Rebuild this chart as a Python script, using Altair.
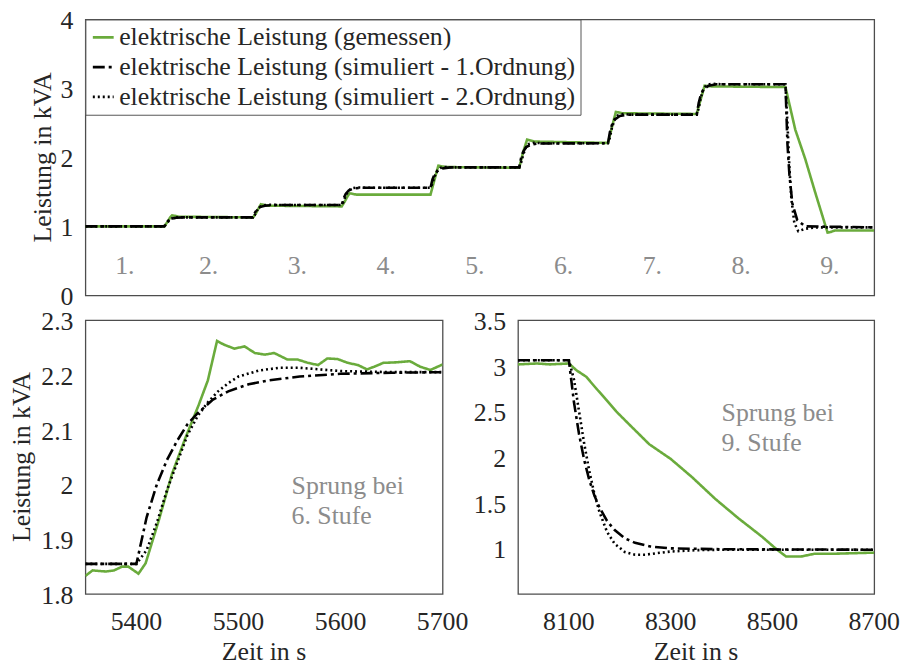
import altair as alt
import pandas as pd

FONT = "Liberation Serif, Times New Roman, serif"
GREEN = "#6aab3c"
INK = "#262626"
GRAYTXT = "#8c8c8c"
FS = 26
SER = [
    "elektrische Leistung (gemessen)",
    "elektrische Leistung (simuliert - 1.Ordnung)",
    "elektrische Leistung (simuliert - 2.Ordnung)",
]
Y_TITLE = "Leistung in kVA"
X_TITLE = "Zeit in s"

# ---------------- top panel (whole test, 9 stages) ----------------
top_meas_t = [1000, 1800, 1830, 1860, 1880, 1950, 2700, 2730, 2760, 2780, 2850, 3600, 3630, 3660, 3680, 3750,
              4500, 4530, 4560, 4580, 4650, 5400, 5440, 5480, 5550, 6300, 6330, 6360, 6380, 6450,
              7200, 7230, 7260, 7280, 7350, 8100, 8200, 8300, 8400, 8527, 8560, 8600, 9000]
top_meas_v = [1.00, 1.00, 1.06, 1.13, 1.16, 1.14, 1.13, 1.19, 1.27, 1.32, 1.30, 1.29, 1.36, 1.44, 1.48, 1.46,
              1.46, 1.62, 1.78, 1.88, 1.86, 1.85, 2.08, 2.26, 2.23, 2.21, 2.38, 2.55, 2.66, 2.64,
              2.63, 2.79, 2.94, 3.04, 3.03, 3.02, 2.40, 1.98, 1.50, 0.91, 0.92, 0.94, 0.94]

top_sim1_t = [1000, 1800, 1820, 1840, 1870, 1920, 2000, 2700, 2720, 2740, 2770, 2820, 2900,
              3600, 3620, 3640, 3670, 3720, 3800, 4500, 4520, 4540, 4570, 4620, 4700,
              5400, 5420, 5440, 5470, 5520, 5600, 6300, 6320, 6340, 6370, 6420, 6500,
              7200, 7220, 7240, 7270, 7320, 7400, 8100, 8120, 8140, 8170, 8220, 8300, 9000]
top_sim1_v = [1.00, 1.00, 1.05, 1.08, 1.11, 1.125, 1.13, 1.13, 1.20, 1.24, 1.28, 1.30, 1.31,
              1.31, 1.41, 1.47, 1.52, 1.55, 1.56, 1.56, 1.68, 1.75, 1.80, 1.84, 1.855,
              1.855, 2.00, 2.08, 2.15, 2.187, 2.202, 2.205, 2.37, 2.47, 2.55, 2.60, 2.62,
              2.62, 2.79, 2.90, 2.99, 3.04, 3.06, 3.06, 2.20, 1.75, 1.33, 1.09, 1.00, 0.985]

top_sim2_t = [1000, 1800, 1820, 1840, 1870, 1900, 1950, 2050, 2700, 2720, 2740, 2770, 2800, 2850, 2950,
              3600, 3620, 3640, 3670, 3700, 3750, 3850, 4500, 4520, 4540, 4570, 4600, 4650, 4750,
              5400, 5420, 5440, 5470, 5500, 5550, 5650, 6300, 6320, 6340, 6370, 6400, 6450, 6550,
              7200, 7220, 7240, 7270, 7300, 7350, 7450, 8100, 8120, 8140, 8160, 8190, 8230, 8300, 8400, 9000]
top_sim2_v = [1.00, 1.00, 1.03, 1.07, 1.11, 1.126, 1.133, 1.13, 1.13, 1.17, 1.23, 1.28, 1.305, 1.314, 1.31,
              1.31, 1.36, 1.45, 1.52, 1.553, 1.564, 1.56, 1.56, 1.62, 1.72, 1.81, 1.848, 1.861, 1.855,
              1.855, 1.93, 2.04, 2.15, 2.197, 2.213, 2.205, 2.205, 2.29, 2.43, 2.56, 2.61, 2.628, 2.62,
              2.62, 2.71, 2.86, 3.00, 3.05, 3.068, 3.06, 3.06, 2.50, 1.85, 1.40, 1.05, 0.93, 0.965, 0.985, 0.985]

stage_labels = ["1.", "2.", "3.", "4.", "5.", "6.", "7.", "8.", "9."]
stage_mid_t = [1400, 2250, 3150, 4050, 4950, 5850, 6750, 7650, 8550]
stage_bounds = [1800, 2700, 3600, 4500, 5400, 6300, 7200, 8100]
top_y_ticks = [0, 1, 2, 3, 4]
top_y_labels = ["0", "1", "2", "3", "4"]

# ---------------- bottom-left: step at stage 6 ----------------
s6_meas_t = [5350, 5357, 5370, 5378, 5386, 5392, 5402, 5409, 5422, 5435, 5448, 5461, 5470, 5479, 5486,
             5496, 5506, 5516, 5526, 5535, 5548, 5558, 5568, 5578, 5587, 5597, 5607, 5617, 5626,
             5633, 5642, 5655, 5668, 5678, 5688, 5700]
s6_meas_v = [1.833, 1.843, 1.841, 1.843, 1.850, 1.850, 1.837, 1.856, 1.935, 2.020, 2.085, 2.145, 2.190,
             2.262, 2.255, 2.248, 2.252, 2.240, 2.237, 2.240, 2.228, 2.228, 2.222, 2.218, 2.230, 2.229,
             2.222, 2.218, 2.210, 2.215, 2.222, 2.223, 2.225, 2.215, 2.209, 2.219]
s6_sim1_t = [5350, 5400, 5410, 5420, 5430, 5440, 5450, 5460, 5475, 5490, 5510, 5530, 5560, 5600, 5650, 5700]
s6_sim1_v = [1.855, 1.855, 1.940, 2.000, 2.045, 2.080, 2.110, 2.130, 2.155, 2.170, 2.183, 2.190, 2.197,
             2.202, 2.204, 2.205]
s6_sim2_t = [5350, 5400, 5410, 5420, 5430, 5440, 5450, 5460, 5470, 5480, 5490, 5500, 5520, 5540, 5560,
             5580, 5600, 5650, 5700]
s6_sim2_v = [1.855, 1.855, 1.880, 1.930, 1.990, 2.040, 2.090, 2.125, 2.150, 2.170, 2.185, 2.197, 2.208,
             2.213, 2.213, 2.210, 2.207, 2.205, 2.205]
s6_x_ticks = [5400, 5500, 5600, 5700]
s6_x_labels = ["5400", "5500", "5600", "5700"]
s6_y_ticks = [1.8, 1.9, 2.0, 2.1, 2.2, 2.3]
s6_y_labels = ["1.8", "1.9", "2", "2.1", "2.2", "2.3"]

# ---------------- bottom-right: step at stage 9 ----------------
s9_meas_t = [8000, 8037, 8063, 8100, 8115, 8134, 8154, 8173, 8193, 8219, 8258, 8300, 8342, 8388, 8433,
             8479, 8508, 8527, 8556, 8582, 8615, 8647, 8700]
s9_meas_v = [3.015, 3.025, 3.015, 3.025, 2.95, 2.88, 2.75, 2.63, 2.50, 2.355, 2.14, 1.98, 1.78, 1.54, 1.33,
             1.13, 0.99, 0.91, 0.91, 0.94, 0.94, 0.945, 0.953]
s9_sim1_t = [8000, 8100, 8110, 8120, 8130, 8140, 8150, 8160, 8175, 8190, 8210, 8230, 8260, 8300, 8400, 8700]
s9_sim1_v = [3.06, 3.06, 2.60, 2.25, 1.97, 1.75, 1.58, 1.45, 1.30, 1.20, 1.11, 1.06, 1.02, 1.00, 0.99, 0.985]
s9_sim2_t = [8000, 8100, 8110, 8120, 8130, 8140, 8150, 8160, 8175, 8190, 8210, 8230, 8250, 8270, 8300,
             8350, 8400, 8700]
s9_sim2_v = [3.06, 3.06, 2.85, 2.50, 2.15, 1.85, 1.60, 1.40, 1.18, 1.05, 0.96, 0.93, 0.93, 0.945, 0.965,
             0.98, 0.985, 0.985]
s9_x_ticks = [8100, 8300, 8500, 8700]
s9_x_labels = ["8100", "8300", "8500", "8700"]
s9_y_ticks = [1, 1.5, 2, 2.5, 3, 3.5]
s9_y_labels = ["1", "1.5", "2", "2.5", "3", "3.5"]

s6_note = "Sprung bei\n6. Stufe"
s9_note = "Sprung bei\n9. Stufe"


def frame(series_list):
    parts = []
    for name, ts, vs in series_list:
        parts.append(pd.DataFrame({"t": ts, "v": vs, "s": name}))
    return pd.concat(parts, ignore_index=True)


df_top = frame([(SER[0], top_meas_t, top_meas_v), (SER[1], top_sim1_t, top_sim1_v),
                (SER[2], top_sim2_t, top_sim2_v)])
df_s6 = frame([(SER[0], s6_meas_t, s6_meas_v), (SER[1], s6_sim1_t, s6_sim1_v),
               (SER[2], s6_sim2_t, s6_sim2_v)])
df_s9 = frame([(SER[0], s9_meas_t, s9_meas_v), (SER[1], s9_sim1_t, s9_sim1_v),
               (SER[2], s9_sim2_t, s9_sim2_v)])

color_scale = alt.Scale(domain=SER, range=[GREEN, "black", "black"])
dash_scale = alt.Scale(domain=SER, range=[[1, 0], [12, 4, 3, 4], [2, 3]])


def grid_axis(values):
    return alt.Axis(values=values, labels=False, title=None, ticks=False, domain=False)


def lines(df, xscale, yscale, xvals, yvals, legend):
    return alt.Chart(df).mark_line(strokeWidth=2.6, clip=True).encode(
        x=alt.X("t:Q", scale=xscale, axis=grid_axis(xvals)),
        y=alt.Y("v:Q", scale=yscale, axis=grid_axis(yvals)),
        color=alt.Color("s:N", scale=color_scale, legend=legend),
        strokeDash=alt.StrokeDash("s:N", scale=dash_scale, legend=legend),
    )


def ytick_text(vals, labs, yscale):
    return alt.Chart(pd.DataFrame({"v": vals, "lab": labs})).mark_text(
        font=FONT, fontSize=FS, color=INK, align="right", baseline="middle", dx=-12, dy=2
    ).encode(x=alt.value(0), y=alt.Y("v:Q", scale=yscale, axis=None), text="lab:N")


def xtick_text(vals, labs, xscale, h):
    return alt.Chart(pd.DataFrame({"t": vals, "lab": labs})).mark_text(
        font=FONT, fontSize=FS, color=INK, align="center", baseline="middle"
    ).encode(x=alt.X("t:Q", scale=xscale, axis=None), y=alt.value(h + 28), text="lab:N")


def ytitle(xpos, h):
    return alt.Chart(pd.DataFrame({"txt": [Y_TITLE]})).mark_text(
        font=FONT, fontSize=FS, color=INK, align="center", baseline="middle", angle=270
    ).encode(x=alt.value(xpos), y=alt.value(h / 2), text="txt:N")


def xtitle(w, h):
    return alt.Chart(pd.DataFrame({"txt": [X_TITLE]})).mark_text(
        font=FONT, fontSize=FS, color=INK, align="center", baseline="alphabetic"
    ).encode(x=alt.value(w / 2), y=alt.value(h + 67), text="txt:N")


def note(t, y, txt, xscale, yscale):
    return alt.Chart(pd.DataFrame({"t": [t], "y": [y], "txt": [txt]})).mark_text(
        font=FONT, fontSize=FS, color=GRAYTXT, align="left", baseline="middle", lineBreak="\n", lineHeight=30
    ).encode(x=alt.X("t:Q", scale=xscale, axis=None), y=alt.Y("y:Q", scale=yscale, axis=None), text="txt:N")


legend = alt.Legend(title=None, orient="top-left", offset=0, fillColor="white", strokeColor="#555555",
                    padding=5, symbolType="stroke", symbolSize=441, symbolStrokeWidth=2.6,
                    labelFont=FONT, labelFontSize=FS, labelColor=INK, rowPadding=4,
                    labelOffset=3, labelLimit=0)

# top
TW, TH = 795, 278
top_x = alt.Scale(domain=[1000, 9000], nice=False, zero=False)
top_y = alt.Scale(domain=[0, 4], nice=False)
top_lines = lines(df_top, top_x, top_y, stage_bounds, top_y_ticks, legend)
stages = alt.Chart(pd.DataFrame({"t": stage_mid_t, "lab": stage_labels, "y": [0.43] * 9})).mark_text(
    font=FONT, fontSize=FS, color=GRAYTXT, align="center", baseline="middle"
).encode(x=alt.X("t:Q", scale=top_x, axis=None), y=alt.Y("y:Q", scale=top_y, axis=None), text="lab:N")
top = alt.layer(
    top_lines, stages, ytick_text(top_y_ticks, top_y_labels, top_y), ytitle(-43, TH)
).properties(width=TW, height=TH)

# bottom-left
BW1, BW2, BH = 360, 359, 276
s6_x = alt.Scale(domain=[5350, 5700], nice=False, zero=False)
s6_y = alt.Scale(domain=[1.8, 2.3], nice=False, zero=False)
bl = alt.layer(
    lines(df_s6, s6_x, s6_y, s6_x_ticks, s6_y_ticks, None),
    note(5552, 1.997, s6_note, s6_x, s6_y),
    ytick_text(s6_y_ticks, s6_y_labels, s6_y),
    xtick_text(s6_x_ticks, s6_x_labels, s6_x, BH),
    ytitle(-64, BH),
    xtitle(BW1, BH),
).properties(width=BW1, height=BH)

# bottom-right
s9_x = alt.Scale(domain=[8000, 8700], nice=False, zero=False)
s9_y = alt.Scale(domain=[0.5, 3.5], nice=False, zero=False)
br = alt.layer(
    lines(df_s9, s9_x, s9_y, s9_x_ticks, s9_y_ticks, None),
    note(8400, 2.48, s9_note, s9_x, s9_y),
    ytick_text(s9_y_ticks, s9_y_labels, s9_y),
    xtick_text(s9_x_ticks, s9_x_labels, s9_x, BH),
    xtitle(BW2, BH),
).properties(width=BW2, height=BH)

bottom = alt.hconcat(bl, br, spacing=76, bounds="flush")

chart = alt.vconcat(top, bottom, spacing=25, bounds="flush").resolve_scale(
    color="independent", strokeDash="independent"
).properties(
    padding={"left": 0, "top": -3, "right": -1, "bottom": -3}
).configure(
    font=FONT
).configure_view(
    stroke="#4d4d4d", strokeWidth=1.3
).configure_axis(
    gridColor="#e3e3e3", gridWidth=1
)

chart.save("out.html", embed_options={"renderer": "svg", "actions": False})
